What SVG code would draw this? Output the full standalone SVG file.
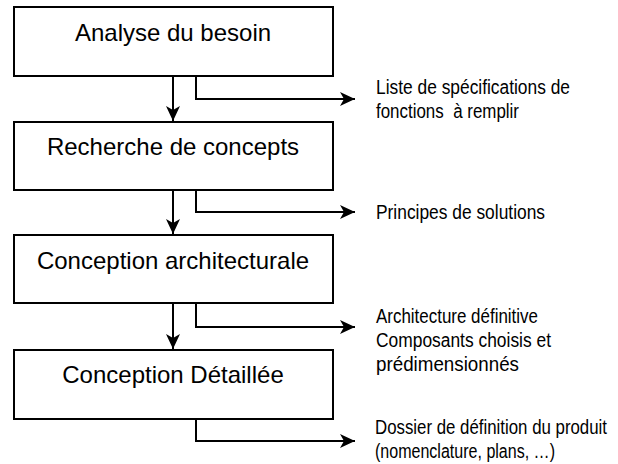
<svg xmlns="http://www.w3.org/2000/svg" width="618" height="464" viewBox="0 0 618 464">
<style>
.box{fill:#fff;stroke:#000;stroke-width:2}
.lbl{font-family:"Liberation Sans",Arial,sans-serif;font-size:24px;fill:#000;text-anchor:middle}
.out{font-family:"Liberation Sans Narrow","Liberation Sans",Arial,sans-serif;font-size:21px;fill:#000}
.c{fill:none;stroke:#000;stroke-width:2}
</style>
<defs>
<marker id="ah" markerWidth="16" markerHeight="14" refX="15" refY="7" orient="auto" markerUnits="userSpaceOnUse">
<path d="M0,0 L15,7 L0,14 L4,7 Z" fill="#000"/>
</marker>
</defs>
<rect width="618" height="464" fill="#fff"/>
<g id="connectors">
<path class="c" d="M173,76 V121" marker-end="url(#ah)"/>
<path class="c" d="M173,190 V234" marker-end="url(#ah)"/>
<path class="c" d="M173,303 V349" marker-end="url(#ah)"/>
<path class="c" d="M196,76 V99 H355" marker-end="url(#ah)"/>
<path class="c" d="M196,190 V212 H355" marker-end="url(#ah)"/>
<path class="c" d="M196,303 V327 H355" marker-end="url(#ah)"/>
<path class="c" d="M196,419 V441 H355" marker-end="url(#ah)"/>
</g>
<g id="n1"><rect class="box" x="14" y="7" width="319" height="69"/><text class="lbl" x="173" y="41">Analyse du besoin</text></g>
<g id="n2"><rect class="box" x="14" y="122" width="319" height="68"/><text class="lbl" x="173" y="155">Recherche de concepts</text></g>
<g id="n3"><rect class="box" x="14" y="235" width="319" height="68"/><text class="lbl" x="173" y="269">Conception architecturale</text></g>
<g id="n4"><rect class="box" x="14" y="350" width="319" height="69"/><text class="lbl" x="173" y="383">Conception Détaillée</text></g>
<g id="o1" class="out" transform="translate(376,0) scale(0.8,1)">
<text x="0" y="94" textLength="242.5" lengthAdjust="spacingAndGlyphs">Liste de spécifications de</text>
<text x="0" y="118" textLength="178.75" lengthAdjust="spacingAndGlyphs" xml:space="preserve">fonctions  à remplir</text>
</g>
<g id="o2" class="out" transform="translate(376,0) scale(0.8,1)"><text x="0" y="219" textLength="211.25" lengthAdjust="spacingAndGlyphs">Principes de solutions</text></g>
<g id="o3" class="out" transform="translate(376,0) scale(0.8,1)">
<text x="0" y="323" textLength="202.5" lengthAdjust="spacingAndGlyphs">Architecture définitive</text>
<text x="0" y="347" textLength="218.75" lengthAdjust="spacingAndGlyphs">Composants choisis et</text>
<text x="0" y="371" textLength="178.75" lengthAdjust="spacingAndGlyphs">prédimensionnés</text>
</g>
<g id="o4" class="out" transform="translate(375,0) scale(0.8,1)">
<text x="0" y="434" textLength="290" lengthAdjust="spacingAndGlyphs">Dossier de définition du produit</text>
<text x="0" y="458" textLength="225" lengthAdjust="spacingAndGlyphs">(nomenclature, plans, …)</text>
</g>
</svg>
